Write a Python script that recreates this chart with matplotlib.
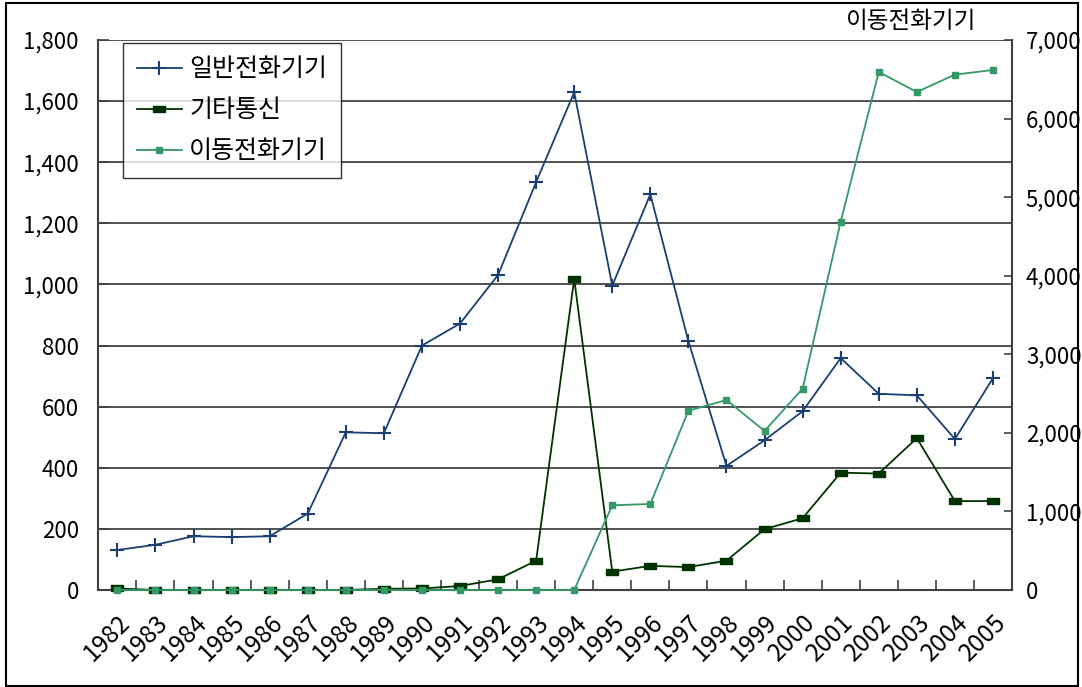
import matplotlib
matplotlib.use('Agg')
import matplotlib.pyplot as plt
from matplotlib.patches import Rectangle
import numpy as np

plt.rcParams['font.family'] = ['Noto Sans CJK KR', 'DejaVu Sans']

# 데이터
years = ['1982', '1983', '1984', '1985', '1986', '1987', '1988', '1989',
         '1990', '1991', '1992', '1993', '1994', '1995', '1996', '1997',
         '1998', '1999', '2000', '2001', '2002', '2003', '2004', '2005']
general_phone = [131, 148, 176, 173, 176, 250, 516, 513, 800, 872, 1031, 1335,
                 1629, 996, 1295, 814, 406, 490, 585, 759, 642, 637, 494, 693]
other_comm = [5, 0, 0, 0, 0, 0, 0, 4, 5, 13, 35, 96,
              1018, 60, 79, 75, 96, 199, 235, 384, 381, 497, 291, 291]
mobile_phone = [0, 0, 0, 0, 0, 0, 0, 0, 0, 0, 0, 0,
                0, 1078, 1095, 2282, 2418, 2024, 2562, 4688, 6593, 6338, 6559, 6618]

label_general = '일반전화기기'
label_other = '기타통신'
label_mobile = '이동전화기기'

x = np.arange(len(years))

fig = plt.figure(figsize=(10.82, 6.87), dpi=100)
ax = fig.add_axes([0.0909, 0.1412, 0.8444, 0.8006])
ax2 = ax.twinx()

# 그리드
ax.set_ylim(0, 1800)
ax.set_yticks(np.arange(0, 1801, 200))
ax.yaxis.grid(True, color='#222222', linewidth=1.1)
ax.set_axisbelow(True)
ax.set_xlim(-0.5, len(years) - 0.5)

rect_marker = [(-1, -0.45), (1, -0.45), (1, 0.45), (-1, 0.45), (-1, -0.45)]

l1, = ax.plot(x, general_phone, color='#1A3F73', linewidth=1.3, marker='+',
              markersize=10, markeredgewidth=1.5, label=label_general, zorder=4,
              clip_on=False)
l2, = ax.plot(x, other_comm, color='#003300', linewidth=1.3, marker=rect_marker,
              markersize=9, label=label_other, zorder=3, clip_on=False)
l3, = ax2.plot(x, mobile_phone, color='#339966', linewidth=1.3, marker='s',
               markersize=5, label=label_mobile, clip_on=False, zorder=5)

ax2.set_ylim(0, 7000)
ax2.set_yticks(np.arange(0, 7001, 1000))

# 축 스타일
for a in (ax, ax2):
    a.spines['top'].set_visible(False)
    for s in ('left', 'right', 'bottom'):
        a.spines[s].set_color('#404040')
        a.spines[s].set_linewidth(1.5)
        a.spines[s].set_zorder(1)
ax.spines['right'].set_visible(False)
ax2.spines['left'].set_visible(False)
ax2.spines['bottom'].set_visible(False)

ax.tick_params(axis='y', direction='in', length=8, width=1.2, color='#404040',
               labelsize=16, pad=14)
ax2.tick_params(axis='y', direction='in', length=6, width=1.2, color='#404040',
                labelsize=16, pad=10)
ax.yaxis.set_major_formatter(matplotlib.ticker.StrMethodFormatter('{x:,.0f}'))
ax2.yaxis.set_major_formatter(matplotlib.ticker.StrMethodFormatter('{x:,.0f}'))

ax.set_xticks(x)
ax.set_xticklabels(years, rotation=45, ha='right', va='top',
                   rotation_mode='anchor', fontsize=17.5)
ax.set_xticks(np.arange(-0.5, len(years), 1), minor=True)
ax.tick_params(axis='x', which='major', length=0, pad=14)
ax.tick_params(axis='x', which='minor', direction='in', length=7, width=1.2,
               color='#404040')

ax.annotate(label_mobile, xy=(1, 1), xycoords='axes fraction',
            xytext=(-102, 7), textcoords='offset pixels',
            ha='center', va='bottom', fontsize=17)

leg = ax.legend(handles=[l1, l2, l3], loc='upper left',
                bbox_to_anchor=(0.027, 0.995), borderaxespad=0,
                fontsize=18, frameon=True, fancybox=False, edgecolor='black',
                handlelength=1.8, labelspacing=0.6, handletextpad=0.3,
                borderpad=0.55)
leg.get_frame().set_linewidth(1.0)
leg.set_zorder(10)

# 바깥 테두리
fig.patches.append(Rectangle((0.006, 0.002), 0.99, 0.993, transform=fig.transFigure,
                             fill=False, edgecolor='black', linewidth=1.5))

fig.savefig('out.png', dpi=100)
